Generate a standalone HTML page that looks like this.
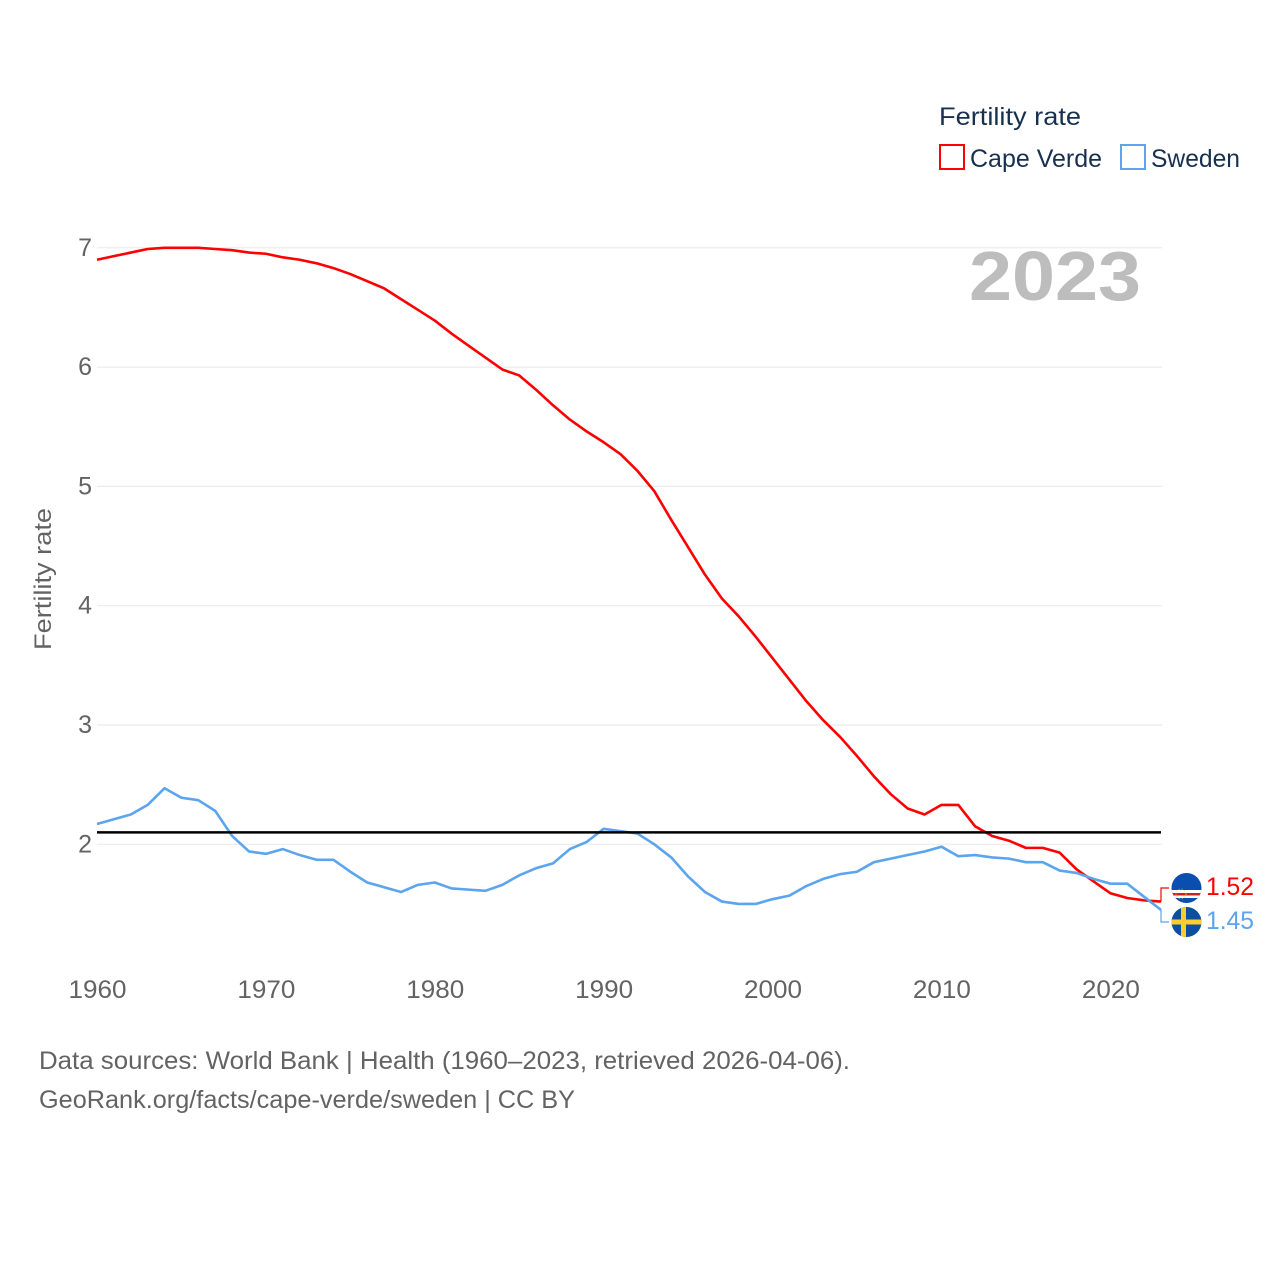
<!DOCTYPE html>
<html lang="en">
<head>
<meta charset="utf-8">
<title>Fertility rate: Cape Verde vs Sweden</title>
<style>
html,body{margin:0;padding:0;background:#fff;}
svg{display:block;font-family:"Liberation Sans",sans-serif;}
</style>
</head>
<body>
<svg id="chart" xmlns="http://www.w3.org/2000/svg" width="1280" height="1280" viewBox="0 0 1280 1280">
  <rect width="1280" height="1280" fill="#fff"/>
  <g id="grid"></g>
  <g id="yticks"></g>
  <g id="xticks"></g>
  <text transform="translate(51,650) rotate(-90)" font-size="24" fill="#636363" textLength="142" lengthAdjust="spacingAndGlyphs">Fertility rate</text>
  <text x="969" y="300" font-size="70" font-weight="700" fill="#bdbdbd" textLength="172" lengthAdjust="spacingAndGlyphs">2023</text>
  <g id="series"></g>
  <line id="refline" stroke="#000" stroke-width="2.5"/>

  <g>
    <text x="939" y="125" font-size="25" fill="#17304f" textLength="142" lengthAdjust="spacingAndGlyphs">Fertility rate</text>
    <g>
      <rect x="940" y="145" width="24" height="24" fill="none" stroke="#ff0000" stroke-width="2"/>
      <text x="970" y="167" font-size="25" fill="#17304f" textLength="132" lengthAdjust="spacingAndGlyphs">Cape Verde</text>
    </g>
    <g>
      <rect x="1121" y="145" width="24" height="24" fill="none" stroke="#5ba4ee" stroke-width="2"/>
      <text x="1151" y="167" font-size="25" fill="#17304f" textLength="89" lengthAdjust="spacingAndGlyphs">Sweden</text>
    </g>
  </g>

  <defs>
    <clipPath id="flag-cv-clip"><circle cx="1186.5" cy="888" r="15"/></clipPath>
    <clipPath id="flag-se-clip"><circle cx="1186.5" cy="922" r="15"/></clipPath>
  </defs>
  <g clip-path="url(#flag-cv-clip)">
    <rect x="1171" y="873" width="31" height="31" fill="#0a4fb0"/>
    <rect x="1171" y="890" width="31" height="8" fill="#fff"/>
    <rect x="1171" y="893" width="31" height="2.5" fill="#cf2027"/>
    <circle cx="1181" cy="894" r="5" fill="none" stroke="#f7d116" stroke-width="0.8" stroke-dasharray="1 2"/>
  </g>
  <g clip-path="url(#flag-se-clip)">
    <rect x="1171" y="907" width="31" height="31" fill="#0a4fa0"/>
    <rect x="1171" y="919.5" width="31" height="5" fill="#fecc2f"/>
    <rect x="1181" y="907" width="5" height="31" fill="#fecc2f"/>
  </g>
  <text x="1206" y="895" font-size="25" fill="#ff0000" textLength="48" lengthAdjust="spacingAndGlyphs">1.52</text>
  <text x="1206" y="929" font-size="25" fill="#5ba4ee" textLength="48" lengthAdjust="spacingAndGlyphs">1.45</text>

  <text x="39" y="1069" font-size="25" fill="#636363" textLength="811" lengthAdjust="spacingAndGlyphs">Data sources: World Bank | Health (1960–2023, retrieved 2026-04-06).</text>
  <a><text x="39" y="1108" font-size="25" fill="#636363" textLength="536" lengthAdjust="spacingAndGlyphs">GeoRank.org/facts/cape-verde/sweden | CC BY</text></a>
</svg>
<script>
var startYear = 1960;
var capeVerde = [6.90,6.93,6.96,6.99,7.00,7.00,7.00,6.99,6.98,6.96,6.95,6.92,6.90,6.87,6.83,6.78,6.72,6.66,6.57,6.48,6.39,6.28,6.18,6.08,5.98,5.93,5.81,5.68,5.56,5.46,5.37,5.27,5.13,4.96,4.72,4.49,4.26,4.06,3.91,3.74,3.56,3.38,3.20,3.04,2.90,2.74,2.57,2.42,2.30,2.25,2.33,2.33,2.15,2.07,2.03,1.97,1.97,1.93,1.79,1.69,1.59,1.55,1.53,1.52];
var sweden = [2.17,2.21,2.25,2.33,2.47,2.39,2.37,2.28,2.07,1.94,1.92,1.96,1.91,1.87,1.87,1.77,1.68,1.64,1.60,1.66,1.68,1.63,1.62,1.61,1.66,1.74,1.80,1.84,1.96,2.02,2.13,2.11,2.09,2.00,1.89,1.73,1.60,1.52,1.50,1.50,1.54,1.57,1.65,1.71,1.75,1.77,1.85,1.88,1.91,1.94,1.98,1.90,1.91,1.89,1.88,1.85,1.85,1.78,1.76,1.71,1.67,1.67,1.56,1.45];
var yTickValues = [2,3,4,5,6,7];
var xTickYears = [1960,1970,1980,1990,2000,2010,2020];
var replacementRate = 2.1;

var NS = 'http://www.w3.org/2000/svg';
function xScale(year){ return 97 + (year - 1960) * (1161 - 97) / 63; }
function yScale(v){ return 844.3 - (v - 2) * 119.3; }

var grid = document.getElementById('grid');
var yticks = document.getElementById('yticks');
var xticks = document.getElementById('xticks');
var seriesGroup = document.getElementById('series');

yTickValues.forEach(function(v){
  var line = document.createElementNS(NS, 'line');
  
  
  line.setAttribute('x1', 97);
  line.setAttribute('x2', 1162);
  line.setAttribute('y1', yScale(v));
  line.setAttribute('y2', yScale(v));
  line.setAttribute('stroke', '#ebebeb');
  line.setAttribute('stroke-width', '1.2');
  grid.appendChild(line);
  var t = document.createElementNS(NS, 'text');
  
  
  t.setAttribute('x', 92);
  t.setAttribute('y', yScale(v) + 8);
  t.setAttribute('text-anchor', 'end');
  t.setAttribute('font-size', '25');
  t.setAttribute('fill', '#636363');
  t.textContent = v;
  yticks.appendChild(t);
});

xTickYears.forEach(function(y){
  var t = document.createElementNS(NS, 'text');
  
  
  t.setAttribute('x', xScale(y) + 0.5);
  t.setAttribute('y', 998);
  t.setAttribute('text-anchor', 'middle');
  t.setAttribute('font-size', '25');
  t.setAttribute('fill', '#636363');
  t.setAttribute('textLength', '58');
  t.setAttribute('lengthAdjust', 'spacingAndGlyphs');
  t.textContent = y;
  xticks.appendChild(t);
});

function linePath(values){
  return values.map(function(v, i){
    return (i ? 'L' : 'M') + xScale(startYear + i).toFixed(2) + ' ' + yScale(v).toFixed(2);
  }).join(' ');
}

var redPath = document.createElementNS(NS, 'path');


redPath.setAttribute('d', linePath(capeVerde));
redPath.setAttribute('fill', 'none');
redPath.setAttribute('stroke', '#ff0000');
redPath.setAttribute('stroke-width', '2.6');
redPath.setAttribute('stroke-linejoin', 'round');
seriesGroup.appendChild(redPath);

var bluePath = document.createElementNS(NS, 'path');


bluePath.setAttribute('d', linePath(sweden));
bluePath.setAttribute('fill', 'none');
bluePath.setAttribute('stroke', '#5ba4ee');
bluePath.setAttribute('stroke-width', '2.6');
bluePath.setAttribute('stroke-linejoin', 'round');
seriesGroup.appendChild(bluePath);

var lastYear = startYear + capeVerde.length - 1;
var endX = xScale(lastYear);

var redLink = document.createElementNS(NS, 'path');


redLink.setAttribute('d', 'M' + endX + ' ' + yScale(capeVerde[capeVerde.length - 1]) + ' V888 H1169');
redLink.setAttribute('fill', 'none');
redLink.setAttribute('stroke', '#ff0000');
redLink.setAttribute('stroke-width', '1.2');
seriesGroup.appendChild(redLink);

var blueLink = document.createElementNS(NS, 'path');


blueLink.setAttribute('d', 'M' + endX + ' ' + yScale(sweden[sweden.length - 1]) + ' V922 H1169');
blueLink.setAttribute('fill', 'none');
blueLink.setAttribute('stroke', '#5ba4ee');
blueLink.setAttribute('stroke-width', '1.2');
seriesGroup.appendChild(blueLink);

var ref = document.getElementById('refline');
ref.setAttribute('x1', 97);
ref.setAttribute('x2', 1161);
ref.setAttribute('y1', yScale(replacementRate));
ref.setAttribute('y2', yScale(replacementRate));
</script>
</body>
</html>
